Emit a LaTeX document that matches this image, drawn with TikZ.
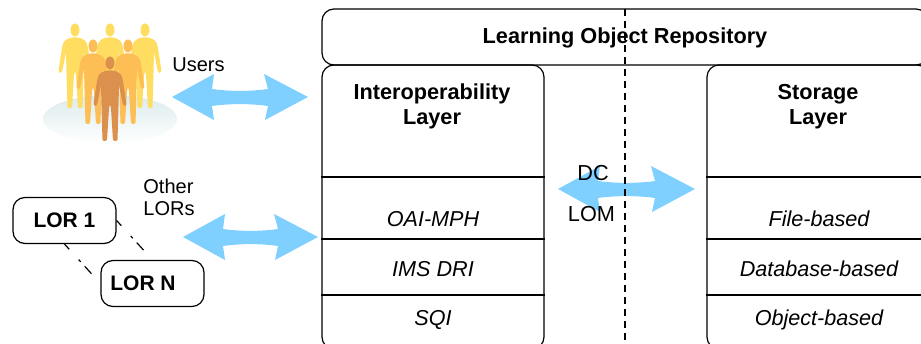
\documentclass[tikz,border=0pt]{standalone}
\usepackage{fontspec}
\setmainfont{Liberation Sans}
\usetikzlibrary{calc}
\definecolor{arrowblue}{HTML}{7FCFFF}
\definecolor{backyellow}{HTML}{FFDD60}
\definecolor{midorange}{HTML}{FDBE55}
\definecolor{frontbrown}{HTML}{DB914D}
\definecolor{groundteal}{HTML}{DCEBEC}
\tikzset{x=1pt, y=-1pt,
every picture/.style={line width=1.2pt},
layerbox/.style={ % Sets the properties for the big boxes
draw,
rounded corners=12pt,
minimum width=222pt,
minimum height=284pt},
lorbox/.style={
draw,
rounded corners=12pt,
minimum width=103pt,
minimum height=46pt,
inner sep=0pt,
font=\fontsize{21}{24}\selectfont\bfseries},
title/.style={
align=center,
inner sep=0pt,
font=\fontsize{21.7}{25}\selectfont\bfseries},
rowtext/.style={
inner sep=0pt,
font=\fontsize{21.6}{25}\selectfont\itshape},
plaintext/.style={
align=left,
inner sep=0pt,
font=\fontsize{20}{22}\selectfont},
midtext/.style={
inner sep=0pt,
font=\fontsize{21.7}{25}\selectfont},
lordash/.style={
dash pattern=on 7pt off 14pt on 3pt off 6pt on 10pt off 30pt},
blockarrow/.style={ % Double headed arrow from tip to tip
fill=arrowblue,
to path={(\tikztostart)
-- ($(\tikztostart)+(42,-23)$)
-- ($(\tikztostart)+(40,-8)$)
.. controls ($(\tikztostart)+(58,-5.5)$) and ($(\tikztotarget)+(-58,-5.5)$) .. ($(\tikztotarget)+(-40,-8)$)
-- ($(\tikztotarget)+(-44,-23)$)
-- (\tikztotarget)
-- ($(\tikztotarget)+(-43,23)$)
-- ($(\tikztotarget)+(-40,9)$)
.. controls ($(\tikztotarget)+(-58,6.5)$) and ($(\tikztostart)+(58,6.5)$) .. ($(\tikztostart)+(40,9)$)
-- ($(\tikztostart)+(42,23)$)
-- cycle}},
person/.pic={ % One figure, from the top of its head
\fill (0,7) ellipse [x radius=4.5pt, y radius=6.5pt];
\fill[rounded corners=1.5pt] (0,14) -- (7,15.5) -- (11.5,19) -- (13,25) -- (16.5,48) -- (15.5,50)
-- (13.5,50) -- (12.5,47) -- (9,29) -- (8.5,50) -- (7.5,85) -- (3,85) -- (1,52) -- (0,48)
-- (-1,52) -- (-3,85) -- (-7.5,85) -- (-8.5,50) -- (-9,29) -- (-12.5,47) -- (-13.5,50)
-- (-15.5,50) -- (-16.5,48) -- (-13,25) -- (-11.5,19) -- (-7,15.5) -- cycle;}}

\begin{document}
\begin{tikzpicture}
\path[use as bounding box, clip] (0,0) rectangle (921,344);
% users
\shade[top color=groundteal, bottom color=white] (110,119) ellipse [x radius=67pt, y radius=24pt];
\foreach \x in {75,110,145} \pic[color=backyellow] at (\x,23) {person};
\foreach \x in {93,128} \pic[color=midorange] at (\x,39) {person};
\pic[color=frontbrown] at (110,56) {person};
\node[plaintext] (users) at (198.5,65) {Users};
% other repositories
\node[lorbox] (lorone) at (64.5,220.5) {LOR 1};
\node[lorbox] (lorn) at (152.5,283.5) {LOR N\hspace{19pt}\mbox{}};
\draw[lordash] (lorone.south) -- (lorn.west);
\draw[lordash] (lorone.east) -- (lorn.north);
\node[plaintext] (others) at (169,197.5) {Other\\LORs};
% repository
\node[draw, rounded corners=12pt, minimum width=606pt, minimum height=56pt] (repo) at (625,37) {};
\node[title] (repotitle) at (625,38) {Learning Object Repository};
\node[layerbox] (interop) at (433,207) {};
\node[layerbox] (storage) at (818,207) {};
\node[title] (interoptitle) at (432,106.5) {Interoperability\\Layer};
\node[title] (storagetitle) at (818,106.5) {Storage\\Layer};
\foreach \y in {177,239,295} {
\draw (interop.west |- 0,\y) -- (interop.east |- 0,\y);
\draw (storage.west |- 0,\y) -- (storage.east |- 0,\y);
}
\node[rowtext] (oai) at (433,219) {OAI-MPH};
\node[rowtext] (ims) at (433,269) {IMS DRI};
\node[rowtext] (sqi) at (433,320) {SQI};
\node[rowtext] (file) at (819,219) {File-based};
\node[rowtext] (database) at (819,269) {Database-based};
\node[rowtext] (object) at (819,320) {Object-based};
% arrows
\coordinate (usersleft) at (172,97);
\coordinate (usersright) at (308,97);
\coordinate (lorsleft) at (183,237);
\coordinate (lorsright) at (318,237);
\coordinate (layerleft) at (558,189);
\coordinate (layerright) at (695,189);
\path[blockarrow] (usersleft) to (usersright);
\path[blockarrow] (lorsleft) to (lorsright);
\path[blockarrow] (layerleft) to (layerright);
\node[midtext] (dc) at (593,173) {DC};
\node[midtext] (lom) at (591.5,214) {LOM};
\coordinate (dashtop) at (625,9);
\coordinate (dashbottom) at (625,344);
\draw[dash pattern=on 7pt off 5pt] (dashtop) -- (dashbottom);
\end{tikzpicture}
\end{document}
